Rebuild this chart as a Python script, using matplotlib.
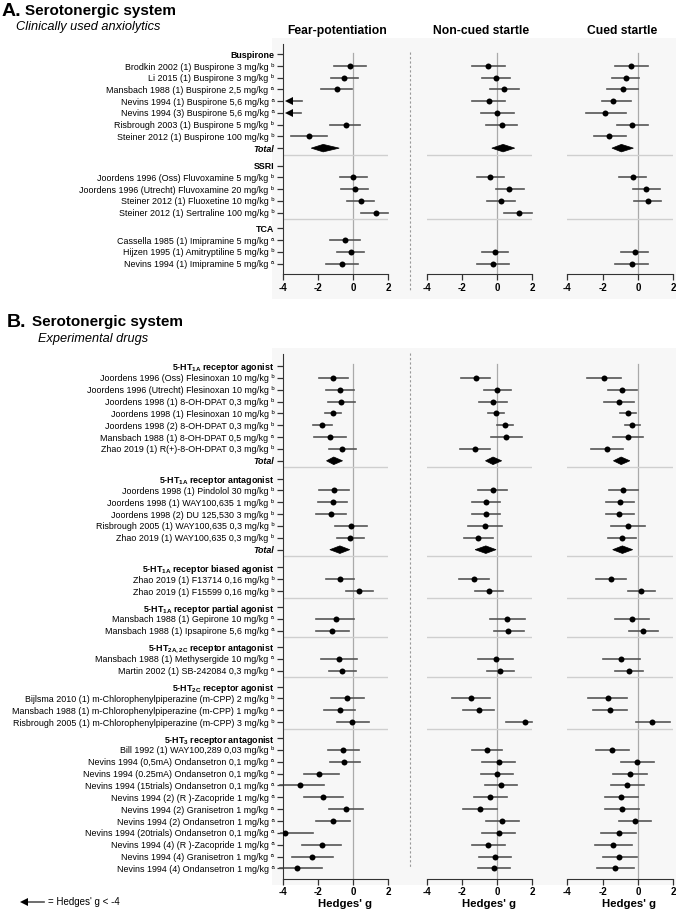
import numpy as np
import matplotlib
matplotlib.use("Agg")
import matplotlib.pyplot as plt
from matplotlib.patches import Polygon, Rectangle
from matplotlib.lines import Line2D

plt.rcParams['font.family'] = ['Liberation Sans', 'DejaVu Sans']
plt.rcParams['mathtext.default'] = 'regular'

NA = np.nan
LT = -np.inf   # Hedges' g < -4 (drawn as arrow)

# ---------------- Panel A data ----------------
A_groups = ["Buspirone", "SSRI", "TCA"]
A_sizes = [7, 4, 3]
A_has_total = [True, False, False]
A_studies = [
    "Brodkin 2002 (1) Buspirone 3 mg/kg", "Li 2015 (1) Buspirone 3 mg/kg",
    "Mansbach 1988 (1) Buspirone 2,5 mg/kg", "Nevins 1994 (1) Buspirone 5,6 mg/kg",
    "Nevins 1994 (3) Buspirone 5,6 mg/kg", "Risbrough 2003 (1) Buspirone 5 mg/kg",
    "Steiner 2012 (1) Buspirone 100 mg/kg",
    "Joordens 1996 (Oss) Fluvoxamine 5 mg/kg", "Joordens 1996 (Utrecht) Fluvoxamine 20 mg/kg",
    "Steiner 2012 (1) Fluoxetine 10 mg/kg", "Steiner 2012 (1) Sertraline 100 mg/kg",
    "Cassella 1985 (1) Imipramine 5 mg/kg", "Hijzen 1995 (1) Amitryptiline 5 mg/kg",
    "Nevins 1994 (1) Imipramine 5 mg/kg",
]
A_notes = list("bbaaabb" + "bbbb" + "aba")

A_fear_g  = [-0.15, -0.51, -0.90, LT, LT, -0.43, -2.51, 0.00, 0.10, 0.44, 1.28, -0.47, -0.13, -0.62]
A_fear_lo = [-1.07, -1.26, -1.83, NA, NA, -1.32, -3.54, -0.75, -0.70, -0.32, 0.44, -1.32, -0.90, -1.55]
A_fear_hi = [0.76, 0.28, -0.06, -2.92, -2.96, 0.42, -1.47, 0.78, 0.85, 1.21, 1.98, 0.38, 0.62, 0.30]
A_fear_total = [(-1.70, -2.38, -0.79)]

A_non_g  = [-0.49, -0.06, 0.42, -0.47, 0.02, 0.26, NA, -0.40, 0.70, 0.23, 1.27, NA, -0.11, -0.25]
A_non_lo = [-1.42, -0.83, -0.42, -1.42, -0.91, -0.61, NA, -1.17, -0.08, -0.55, 0.42, NA, -0.87, -1.17]
A_non_hi = [0.45, 0.72, 1.27, 0.45, 0.95, 1.14, NA, 0.40, 1.50, 1.02, 1.99, NA, 0.64, 0.68]
A_non_total = [(0.34, -0.30, 1.00)]

A_cue_g  = [-0.38, -0.70, -0.87, -1.40, -1.85, -0.32, -1.62, -0.30, 0.47, 0.55, NA, NA, -0.19, -0.36]
A_cue_lo = [-1.30, -1.49, -1.74, -2.06, -2.96, -1.21, -2.49, -1.08, -0.28, -0.23, NA, NA, -0.94, -1.30]
A_cue_hi = [0.57, 0.08, 0.02, -0.38, -0.70, 0.57, -0.70, 0.47, 1.25, 1.32, NA, NA, 0.58, 0.58]
A_cue_total = [(-0.94, -1.47, -0.26)]

# ---------------- Panel B data ----------------
B_groups = [
    r"5-HT$_{1A}$ receptor agonist", r"5-HT$_{1A}$ receptor antagonist",
    r"5-HT$_{1A}$ receptor biased agonist", r"5-HT$_{1A}$ receptor partial agonist",
    r"5-HT$_{2A,2C}$ receptor antagonist", r"5-HT$_{2C}$ receptor agonist",
    r"5-HT$_{3}$ receptor antagonist",
]
B_sizes = [7, 5, 2, 2, 2, 3, 11]
B_has_total = [True, True, False, False, False, False, False]
B_studies = [
    "Joordens 1996 (Oss) Flesinoxan 10 mg/kg", "Joordens 1996 (Utrecht) Flesinoxan 10 mg/kg",
    "Joordens 1998 (1) 8-OH-DPAT 0,3 mg/kg", "Joordens 1998 (1) Flesinoxan 10 mg/kg",
    "Joordens 1998 (2) 8-OH-DPAT 0,3 mg/kg", "Mansbach 1988 (1) 8-OH-DPAT 0,5 mg/kg",
    "Zhao 2019 (1) R(+)-8-OH-DPAT 0,3 mg/kg",
    "Joordens 1998 (1) Pindolol 30 mg/kg", "Joordens 1998 (1) WAY100,635 1 mg/kg",
    "Joordens 1998 (2) DU 125,530 3 mg/kg", "Risbrough 2005 (1) WAY100,635 0,3 mg/kg",
    "Zhao 2019 (1) WAY100,635 0,3 mg/kg",
    "Zhao 2019 (1) F13714 0,16 mg/kg", "Zhao 2019 (1) F15599 0,16 mg/kg",
    "Mansbach 1988 (1) Gepirone 10 mg/kg", "Mansbach 1988 (1) Ipsapirone 5,6 mg/kg",
    "Mansbach 1988 (1) Methysergide 10 mg/kg", "Martin 2002 (1) SB-242084 0,3 mg/kg",
    "Bijlsma 2010 (1) m-Chlorophenylpiperazine (m-CPP) 2 mg/kg",
    "Mansbach 1988 (1) m-Chlorophenylpiperazine (m-CPP) 1 mg/kg",
    "Risbrough 2005 (1) m-Chlorophenylpiperazine (m-CPP) 3 mg/kg",
    "Bill 1992 (1) WAY100,289 0,03 mg/kg", "Nevins 1994 (0,5mA) Ondansetron 0,1 mg/kg",
    "Nevins 1994 (0.25mA) Ondansetron 0,1 mg/kg", "Nevins 1994 (15trials) Ondansetron 0,1 mg/kg",
    "Nevins 1994 (2) (R )-Zacopride 1 mg/kg", "Nevins 1994 (2) Granisetron 1 mg/kg",
    "Nevins 1994 (2) Ondansetron 1 mg/kg", "Nevins 1994 (20trials) Ondansetron 0,1 mg/kg",
    "Nevins 1994 (4) (R )-Zacopride 1 mg/kg", "Nevins 1994 (4) Granisetron 1 mg/kg",
    "Nevins 1994 (4) Ondansetron 1 mg/kg",
]
B_notes = list("bbbbbab" + "bbbbb" + "bb" + "aa" + "aa" + "bab" + "b" + "a" * 10)

B_fear_g  = [-1.13, -0.77, -0.66, -1.15, -1.74, -1.32, -0.62,
             -1.09, -1.15, -1.26, -0.13, -0.19,
             -0.75, 0.34, -1.00, -1.19, -0.81, -0.62,
             -0.32, -0.77, -0.04,
             -0.57, -0.53, -1.92, -3.02, -1.70, -0.38, -1.17, -3.87, -1.79, -2.34, -3.21]
B_fear_lo = [-1.92, -1.55, -1.45, -1.60, -2.26, -2.23, -1.38,
             -1.92, -1.98, -2.08, -1.04, -0.94,
             -1.55, -0.43, -2.08, -2.11, -1.83, -1.38,
             -1.26, -1.64, -0.94,
             -1.45, -1.32, -2.77, -4.15, -2.77, -1.36, -2.13, -4.10, -2.89, -3.49, -4.15]
B_fear_hi = [-0.28, 0.04, 0.13, -0.66, -1.19, -0.38, 0.19,
             -0.23, -0.32, -0.38, 0.81, 0.60,
             0.04, 1.13, 0.04, -0.26, 0.25, 0.19,
             0.62, 0.11, 0.91,
             0.32, 0.40, -0.79, -1.64, -0.60, 0.57, -0.15, -2.26, -0.70, -1.13, -1.75]
B_fear_total = [(-1.10, -1.51, -0.60), (-0.75, -1.32, -0.19)]

B_non_g  = [-1.21, 0.02, -0.25, -0.08, 0.47, 0.53, -1.23,
            -0.26, -0.62, -0.64, -0.68, -1.06,
            -1.30, -0.47, 0.58, 0.64, -0.09, 0.15,
            -1.51, -1.04, 1.58,
            -0.60, 0.08, 0.00, 0.23, -0.40, -1.00, 0.28, 0.08, -0.49, -0.11, -0.17]
B_non_lo = [-2.06, -0.74, -1.02, -0.53, 0.00, -0.32, -2.08,
            -1.08, -1.42, -1.42, -1.64, -1.89,
            -2.15, -1.25, -0.42, -0.19, -1.06, -0.60,
            -2.55, -1.92, 0.53,
            -1.45, -0.83, -0.92, -0.70, -1.32, -1.96, -0.64, -0.85, -1.43, -1.04, -1.11]
B_non_hi = [-0.40, 0.81, 0.55, 0.38, 0.92, 1.40, -0.40,
            0.55, 0.17, 0.15, 0.28, -0.23,
            -0.45, 0.32, 1.60, 1.53, 0.91, 0.94,
            -0.43, -0.15, 2.00,
            0.26, 1.00, 0.92, 1.15, 0.55, 0.00, 1.23, 1.00, 0.45, 0.81, 0.75]
B_non_total = [(-0.23, -0.66, 0.26), (-0.64, -1.25, -0.06)]

B_cue_g  = [-1.90, -0.88, -1.07, -0.59, -0.32, -0.55, -1.73,
            -0.82, -1.03, -1.05, -0.57, -0.91,
            -1.54, 0.17, -0.34, 0.30, -0.95, -0.53,
            -1.71, -1.60, 0.82,
            -1.45, -0.06, -0.46, -0.61, -0.95, -0.91, -0.17, -1.10, -1.41, -1.05, -1.28]
B_cue_lo = [-2.86, -1.70, -1.90, -1.03, -0.76, -1.41, -2.65,
            -1.66, -1.83, -1.83, -1.52, -1.71,
            -2.40, -0.59, -1.28, -0.53, -1.98, -1.28,
            -2.80, -2.57, -0.11,
            -2.38, -0.95, -1.39, -1.54, -1.87, -1.89, -1.07, -2.10, -2.44, -2.00, -2.30]
B_cue_hi = [-0.95, -0.08, -0.23, -0.10, 0.13, 0.30, -0.82,
            0.02, -0.21, -0.21, 0.38, -0.10,
            -0.65, 0.95, 0.63, 1.16, 0.10, 0.27,
            -0.61, -0.61, 1.81,
            -0.50, 0.88, 0.50, 0.34, 0.00, 0.06, 0.76, -0.10, -0.34, -0.04, -0.25]
B_cue_total = [(-0.95, -1.39, -0.46), (-0.88, -1.43, -0.30)]

COLUMNS = ["Fear-potentiation", "Non-cued startle", "Cued startle"]
X_TICKS = [-4, -2, 0, 2]
SUP = {"a": "\u1d43", "b": "\u1d47"}

# ---------------- layout helpers ----------------
W, H = 676, 910
fig = plt.figure(figsize=(W / 100, H / 100), dpi=100)


def px_rect(x0, y0, x1, y1):
    return [x0 / W, 1 - y1 / H, (x1 - x0) / W, (y1 - y0) / H]


def layout(sizes, has_total):
    r = 0.0
    headers, items, totals, seps = [], [], [], []
    for k, (n, t) in enumerate(zip(sizes, has_total)):
        headers.append(r)
        for _ in range(n):
            r += 1
            items.append(r)
        if t:
            r += 1
            totals.append(r)
        if k < len(sizes) - 1:
            seps.append(r + 0.55)
            r += 1.5 if t else 1.35
    return headers, items, totals, seps, r


COL_X = [(282.7, 388.3), (426.7, 532.3), (567.3, 673.3)]
LINE_C = '#555555'
SEP_C = '#cfcfcf'
BG_C = '#f7f7f7'


def draw_panel(y0, dy, top_row, groups, sizes, has_total, studies, notes, cols, show_titles, show_xlabel):
    headers, items, totals, seps, last = layout(sizes, has_total)
    bottom_row = last + 0.9
    top_px = y0 + dy * top_row
    bot_px = y0 + dy * bottom_row
    axes = []
    for ci, (x0, x1) in enumerate(COL_X):
        ax = fig.add_axes(px_rect(x0, top_px, x1, bot_px))
        ax.set_facecolor('none')
        ax.set_xlim(-4, 2)
        ax.set_ylim(bottom_row, top_row)
        ax.plot([0, 0], [-0.15, bottom_row], color='#aaaaaa', lw=0.9, zorder=1)
        for s in seps:
            ax.plot([-4, 2], [s, s], color=SEP_C, lw=1.0, zorder=1)
        g, lo, hi, tot = cols[ci]
        for y, gi, l, h in zip(items, g, lo, hi):
            if np.isneginf(gi):
                ax.plot([-3.55, h], [y, y], color=LINE_C, lw=1.2, zorder=2)
                ax.plot([-3.63], [y], marker='<', color='k', ms=5.5, mew=0, zorder=3)
                continue
            if np.isnan(gi):
                continue
            ax.plot([l, h], [y, y], color=LINE_C, lw=1.2, zorder=2, clip_on=False)
            ax.plot([gi], [y], 'o', color='k', ms=4.3, mew=0, zorder=3)
        for y, (est, l, h) in zip(totals, tot):
            ax.add_patch(Polygon([[l, y], [est, y - 0.32], [h, y], [est, y + 0.32]],
                                 closed=True, facecolor='k', edgecolor='k', lw=0.5, zorder=3))
        for side in ['top', 'right']:
            ax.spines[side].set_visible(False)
        ax.spines['bottom'].set_color('#333333')
        ax.set_xticks(X_TICKS)
        ax.set_xticklabels([str(t) for t in X_TICKS], fontsize=7, fontweight='bold')
        ax.tick_params(axis='x', direction='out', length=4, width=0.9, color='#333333', pad=2)
        if ci == 0:
            ax.spines['left'].set_color('#333333')
            rows, labels, kinds = [], [], []
            ii = 0
            ti = 0
            for gk, (gname, n, t) in enumerate(zip(groups, sizes, has_total)):
                rows.append(headers[gk]); labels.append(gname); kinds.append('h')
                for _ in range(n):
                    rows.append(items[ii])
                    labels.append(studies[ii] + " " + SUP[notes[ii]])
                    kinds.append('s')
                    ii += 1
                if t:
                    rows.append(totals[ti]); labels.append('Total'); kinds.append('t')
                    ti += 1
            ax.set_yticks(rows)
            ax.set_yticklabels(labels, fontsize=6.4)
            for lab, k in zip(ax.get_yticklabels(), kinds):
                if k == 'h':
                    lab.set_fontweight('bold')
                elif k == 't':
                    lab.set_fontweight('bold')
                    lab.set_fontstyle('italic')
            ax.tick_params(axis='y', direction='out', length=4, width=0.9, color='#333333', pad=2)
        else:
            ax.spines['left'].set_visible(False)
            ax.set_yticks([])
        xc = (x0 + x1) / 2
        if show_titles:
            fig.text((xc + 2) / W, 1 - 31 / H, COLUMNS[ci], ha='center', va='center',
                     fontsize=8.7, fontweight='bold')
        if show_xlabel:
            fig.text((xc + 9) / W, 1 - 904 / H, "Hedges' g", ha='center', va='center',
                     fontsize=8.2, fontweight='bold')
        axes.append(ax)
    return axes


# backgrounds
fig.patches.append(Rectangle((272 / W, 1 - 299 / H), (676 - 272) / W, (299 - 38.3) / H,
                             transform=fig.transFigure, facecolor=BG_C, edgecolor='none', zorder=-10))
fig.patches.append(Rectangle((272 / W, 1 - 885 / H), (676 - 272) / W, (885 - 348.3) / H,
                             transform=fig.transFigure, facecolor=BG_C, edgecolor='none', zorder=-10))
# dashed separators between fear and startle columns
for (ya, yb) in [(51.7, 291.7), (353, 866.7)]:
    fig.add_artist(Line2D([410.3 / W, 410.3 / W], [1 - ya / H, 1 - yb / H], transform=fig.transFigure,
                          color='#999999', lw=0.8, ls=(0, (2, 2))))

draw_panel(54.3, 11.73, -0.84, A_groups, A_sizes, A_has_total, A_studies, A_notes,
           [(A_fear_g, A_fear_lo, A_fear_hi, A_fear_total),
            (A_non_g, A_non_lo, A_non_hi, A_non_total),
            (A_cue_g, A_cue_lo, A_cue_hi, A_cue_total)], True, False)

draw_panel(366.0, 11.85, -1.0, B_groups, B_sizes, B_has_total, B_studies, B_notes,
           [(B_fear_g, B_fear_lo, B_fear_hi, B_fear_total),
            (B_non_g, B_non_lo, B_non_hi, B_non_total),
            (B_cue_g, B_cue_lo, B_cue_hi, B_cue_total)], False, True)

# panel titles
fig.text(2 / W, 1 - 11 / H, "A.", fontsize=14, fontweight='bold', va='center', ha='left')
fig.text(25 / W, 1 - 11 / H, "Serotonergic system", fontsize=11, fontweight='bold', va='center', ha='left')
fig.text(16 / W, 1 - 27 / H, "Clinically used anxiolytics", fontsize=9.2, fontstyle='italic',
         va='center', ha='left')
fig.text(7 / W, 1 - 322 / H, "B.", fontsize=14, fontweight='bold', va='center', ha='left')
fig.text(32 / W, 1 - 322 / H, "Serotonergic system", fontsize=11, fontweight='bold', va='center', ha='left')
fig.text(38 / W, 1 - 339 / H, "Experimental drugs", fontsize=9.2, fontstyle='italic',
         va='center', ha='left')

# legend for arrows
fig.add_artist(Line2D([24 / W, 44 / W], [1 - 902 / H, 1 - 902 / H], transform=fig.transFigure,
                      color=LINE_C, lw=1.2))
fig.add_artist(Line2D([24 / W], [1 - 902 / H], transform=fig.transFigure, marker='<', ms=5.5,
                      color='k', mew=0, ls='none'))
fig.text(48 / W, 1 - 902 / H, "= Hedges' g < -4", fontsize=7, va='center', ha='left')

fig.savefig("out.png", dpi=100)
